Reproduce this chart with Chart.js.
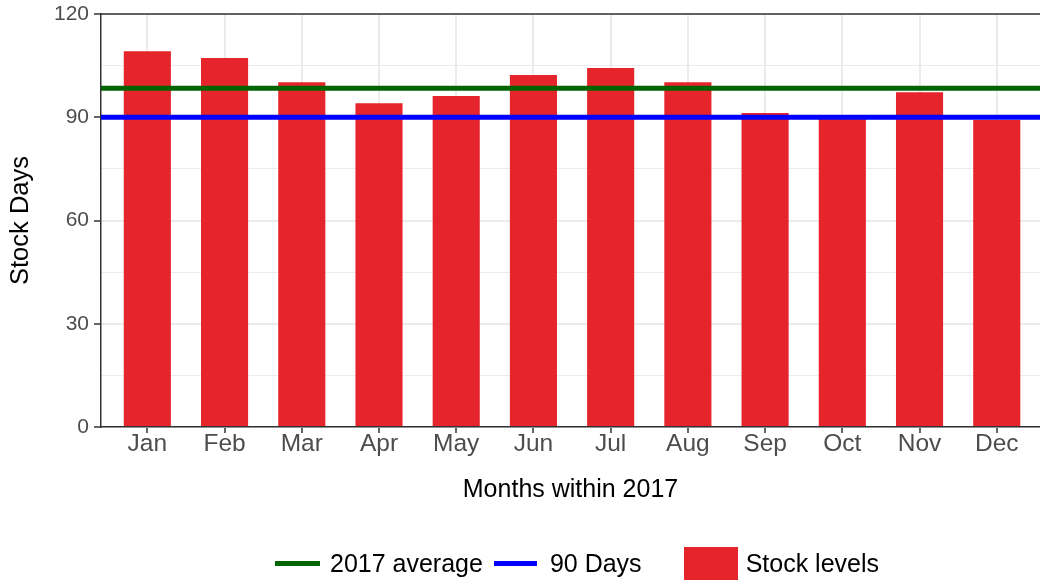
<!DOCTYPE html>
<html>
<head>
<meta charset="utf-8">
<script src="https://cdn.jsdelivr.net/npm/chart.js@4.4.0/dist/chart.umd.min.js"></script>
<style>
  body { margin: 0; background: #fff; }
  #wrap { position: relative; width: 1040px; height: 583px; }
  #legend {
    position: absolute; left: 275px; top: 547px; height: 33px;
    display: flex; align-items: center;
    font-family: "Liberation Sans", Arial, sans-serif; font-size: 25px; color: #000;
  }
  #legend .key { flex: none; }
  #legend span { white-space: nowrap; }
</style>
</head>
<body>
<div id="wrap">
  <canvas id="myChart" width="1040" height="583"></canvas>
  <div id="legend"></div>
</div>
<script>
const months = ['Jan', 'Feb', 'Mar', 'Apr', 'May', 'Jun', 'Jul', 'Aug', 'Sep', 'Oct', 'Nov', 'Dec'];
const stockDays = [109.2, 107.2, 100.2, 94.1, 96.2, 102.3, 104.3, 100.2, 91.2, 90.0, 97.3, 89.2];
const targetDays = 90;
const yTicks = [0, 15, 30, 45, 60, 75, 90, 105, 120];
const yLabels = [0, 30, 60, 90, 120];

const average = stockDays.reduce((a, b) => a + b, 0) / stockDays.length;

// x runs as a number line so the padding either side matches ggplot's discrete expansion
const xMin = -0.6;
const xMax = 11.56;

const font = '"Liberation Sans", Arial, sans-serif';
const ctx = document.querySelector('#myChart');

const topBorder = {
    id: 'topBorder',
    afterDraw(chart) {
        const a = chart.chartArea;
        const c = chart.ctx;
        c.save();
        c.strokeStyle = '#333333';
        c.lineWidth = 1.5;
        c.beginPath();
        c.moveTo(a.left, a.top);
        c.lineTo(a.right, a.top);
        c.stroke();
        c.restore();
    }
};

const chart = new Chart(ctx, {
    type: 'bar',
    data: {
        datasets: [{
            type: 'line',
            label: '2017 average',
            data: [{x: xMin, y: average}, {x: xMax, y: average}],
            borderColor: '#006400',
            backgroundColor: '#006400',
            borderWidth: 5,
            pointRadius: 0,
            order: 1
        }, {
            type: 'line',
            label: '90 Days',
            data: [{x: xMin, y: targetDays}, {x: xMax, y: targetDays}],
            borderColor: '#0000FF',
            backgroundColor: '#0000FF',
            borderWidth: 5,
            pointRadius: 0,
            order: 1
        }, {
            label: 'Stock levels',
            data: stockDays.map((v, i) => ({x: i, y: v})),
            backgroundColor: '#E6242B',
            categoryPercentage: 1,
            barPercentage: 0.61,
            order: 2
        }]
    },
    options: {
        responsive: false,
        animation: false,
        devicePixelRatio: 1,
        layout: { padding: { top: 14, right: 0, bottom: 76, left: 0 } },
        plugins: {
            legend: { display: false },
            tooltip: { enabled: false }
        },
        scales: {
            x: {
                type: 'linear',
                min: xMin,
                max: xMax,
                offset: false,
                afterBuildTicks: (scale) => { scale.ticks = months.map((m, i) => ({value: i})); },
                afterFit: (scale) => { scale.height = 80; scale.paddingLeft = 0; scale.paddingRight = 0; },
                grid: {
                    offset: false,
                    color: '#EBEBEB',
                    lineWidth: 2,
                    tickColor: '#333333',
                    tickLength: 6,
                    tickWidth: 1.5
                },
                border: { display: true, color: '#333333', width: 1.5 },
                ticks: {
                    callback: (v) => months[v],
                    color: '#4D4D4D',
                    font: { family: font, size: 24.5 },
                    padding: -3,
                    maxRotation: 0,
                    autoSkip: false
                },
                title: {
                    display: true,
                    text: 'Months within 2017',
                    color: '#000',
                    font: { family: font, size: 25 },
                    padding: { top: 0, bottom: 2 }
                }
            },
            y: {
                min: 0,
                max: 120,
                afterBuildTicks: (scale) => { scale.ticks = yTicks.map(v => ({value: v})); },
                afterFit: (scale) => { scale.width = 101; scale.paddingTop = 0; scale.paddingBottom = 0; },
                grid: {
                    color: '#EBEBEB',
                    lineWidth: (c) => yLabels.includes(c.tick.value) ? 2 : 1,
                    tickColor: (c) => yLabels.includes(c.tick.value) ? '#333333' : 'rgba(0,0,0,0)',
                    tickLength: 7,
                    tickWidth: 1.5
                },
                border: { display: true, color: '#333333', width: 1.5 },
                ticks: {
                    callback: (v) => yLabels.includes(v) ? v : '',
                    color: '#4D4D4D',
                    font: { family: font, size: 21 },
                    padding: 5
                },
                title: {
                    display: true,
                    text: 'Stock Days',
                    color: '#000',
                    font: { family: font, size: 25.5 },
                    padding: { top: 6, bottom: 0 }
                }
            }
        }
    },
    plugins: [topBorder]
});

// legend keys sized like the ggplot guide
const keySizes = [[45, 5, 10, 11], [43, 5, 13, 42], [54, 33, 8, 0]];
const legend = document.querySelector('#legend');
chart.data.datasets.forEach((ds, i) => {
    const [w, h, gap, after] = keySizes[i];
    const key = document.createElement('div');
    key.className = 'key';
    key.style.cssText = `width:${w}px;height:${h}px;background:${ds.backgroundColor};margin-right:${gap}px;`;
    const text = document.createElement('span');
    text.textContent = ds.label;
    text.style.marginRight = after + 'px';
    legend.appendChild(key);
    legend.appendChild(text);
});
</script>
</body>
</html>
